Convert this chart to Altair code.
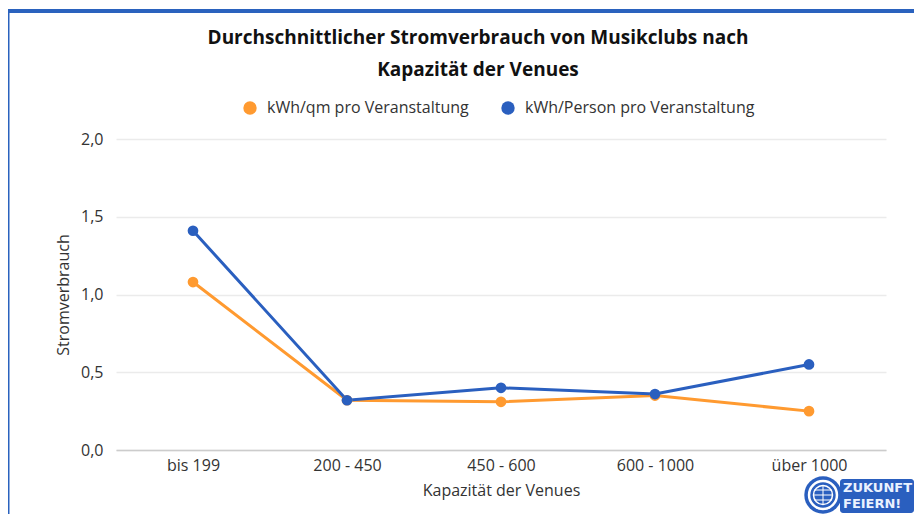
import altair as alt
import pandas as pd

categories = ["bis 199", "200 - 450", "450 - 600", "600 - 1000", "über 1000"]
series_names = ["kWh/qm pro Veranstaltung", "kWh/Person pro Veranstaltung"]
qm_values = [1.08, 0.32, 0.31, 0.35, 0.25]
person_values = [1.41, 0.32, 0.40, 0.36, 0.55]
y_ticks = [0.0, 0.5, 1.0, 1.5, 2.0]
colors = ["#ff9a30", "#2a5fbf"]

rows = []
for c, v in zip(categories, qm_values):
    rows.append({"Kategorie": c, "Serie": series_names[0], "Wert": v})
for c, v in zip(categories, person_values):
    rows.append({"Kategorie": c, "Serie": series_names[1], "Wert": v})
df = pd.DataFrame(rows)

FONT = "Open Sans"
TXT = "#333333"

x_enc = alt.X(
    "Kategorie:N",
    sort=categories,
    scale=alt.Scale(type="point", padding=0.5),
    axis=alt.Axis(
        title="Kapazität der Venues",
        labelAngle=0,
        ticks=False,
        domainColor="#cccccc",
        domainWidth=1.5,
        labelPadding=7,
        titlePadding=9,
        labelFontSize=16,
        titleFontSize=16,
        labelColor=TXT,
        titleColor=TXT,
        labelFont=FONT,
        titleFont=FONT,
        titleFontWeight="normal",
        grid=False,
    ),
)
y_enc = alt.Y(
    "Wert:Q",
    scale=alt.Scale(domain=[0, 2], nice=False),
    axis=alt.Axis(
        title="Stromverbrauch",
        values=y_ticks,
        labelExpr="replace(format(datum.value, '.1f'), '.', ',')",
        ticks=False,
        domain=False,
        gridColor="#ebebeb",
        gridWidth=1.5,
        labelPadding=13,
        titlePadding=9,
        labelFontSize=16,
        titleFontSize=16,
        labelColor=TXT,
        titleColor=TXT,
        labelFont=FONT,
        titleFont=FONT,
        titleFontWeight="normal",
    ),
)
color_enc = alt.Color(
    "Serie:N",
    scale=alt.Scale(domain=series_names, range=colors),
    sort=series_names,
    legend=alt.Legend(
        title=None,
        orient="none",
        direction="horizontal",
        legendX=126,
        legendY=-39,
        symbolType="circle",
        symbolSize=180,
        symbolStrokeWidth=0,
        symbolOpacity=1,
        labelFontSize=16,
        labelFont=FONT,
        labelColor=TXT,
        labelOffset=9,
        labelLimit=0,
        columnPadding=31,
    ),
)

base = alt.Chart(df).encode(x=x_enc, y=y_enc, color=color_enc)
lines = base.mark_line(strokeWidth=3)
points = base.mark_circle(size=115, opacity=1)

one = pd.DataFrame({"a": [0]})
border_top = alt.Chart(one).mark_rule(color="#2a62be", strokeWidth=4).encode(
    x=alt.value(-112), x2=alt.value(820), y=alt.value(-128)
)
border_left = alt.Chart(one).mark_rule(color="#2a62be", strokeWidth=5).encode(
    x=alt.value(-109), y=alt.value(-130), y2=alt.value(390)
)

LX, LY = 707, 356
logo_disc = alt.Chart(one).mark_point(
    shape="circle", filled=True, color="#2a5fbf", size=1400, opacity=1
).encode(x=alt.value(LX), y=alt.value(LY))
logo_ring = alt.Chart(one).mark_point(
    shape="circle", filled=False, color="white", size=780, strokeWidth=2.5, opacity=1
).encode(x=alt.value(LX), y=alt.value(LY))
logo_globe = alt.Chart(one).mark_point(
    shape="circle", filled=False, color="white", size=360, strokeWidth=1.5, opacity=1
).encode(x=alt.value(LX), y=alt.value(LY))
logo_glines = alt.Chart(pd.DataFrame({"d": [-5, 0, 5]})).mark_rule(
    color="white", strokeWidth=1
).encode(x=alt.value(LX - 9), x2=alt.value(LX + 9), y=alt.value(LY), yOffset=alt.YOffset("d:Q", scale=None))
logo_vlines = alt.Chart(one).mark_rule(color="white", strokeWidth=1).encode(
    x=alt.value(LX), y=alt.value(LY - 9), y2=alt.value(LY + 9)
)
logo_plate = alt.Chart(one).mark_rect(color="#2a5fbf", cornerRadius=3).encode(
    x=alt.value(LX + 17), x2=alt.value(LX + 91), y=alt.value(LY - 16), y2=alt.value(LY + 18)
)

logo_words = pd.DataFrame({"t": ["ZUKUNFT", "FEIERN!"], "dy": [-7, 9]})
TX = LX + 20
logo_text = alt.Chart(logo_words).mark_text(
    font="DejaVu Sans", fontWeight="bold", fontSize=13, color="#eaf2ff",
    align="left", baseline="middle"
).encode(text="t:N", x=alt.value(TX), y=alt.value(LY), yOffset=alt.YOffset("dy:Q", scale=None))

chart = alt.layer(
    border_top, border_left, lines, points,
    logo_plate, logo_disc, logo_ring, logo_globe, logo_glines, logo_vlines,
    logo_text,
).properties(
    width=770,
    height=311,
    padding={"left": 108, "top": 131, "right": 28, "bottom": 64},
    autosize=alt.AutoSizeParams(type="none"),
    title=alt.TitleParams(
        text=["Durchschnittlicher Stromverbrauch von Musikclubs nach", "Kapazität der Venues"],
        anchor="middle",
        frame="group",
        dx=-23,
        dy=131,
        offset=58,
        fontSize=19,
        font="Open Sans",
        fontWeight="bold",
        color="#111111",
        lineHeight=32,
    ),
).configure_view(stroke=None)

chart.save("out.html", embed_options={"renderer": "svg", "actions": False})
